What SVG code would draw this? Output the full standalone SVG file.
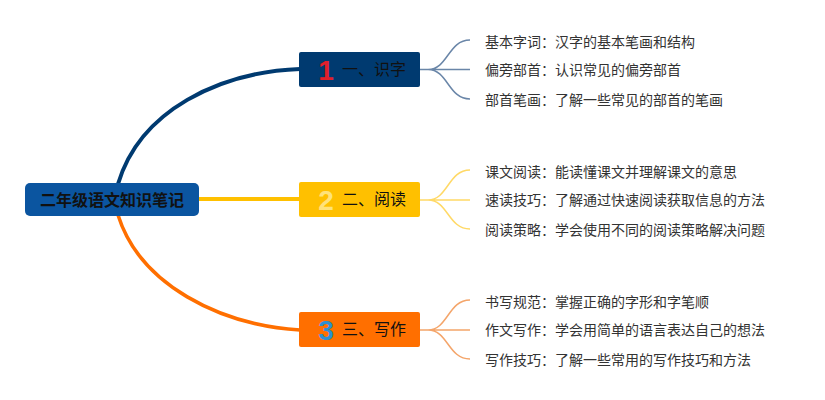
<svg xmlns="http://www.w3.org/2000/svg" width="825" height="400" viewBox="0 0 825 400">
<style>
.cjk{font-family:"Noto Sans CJK SC","Noto Sans",sans-serif}
.root{font-size:16px;font-weight:bold;fill:#111}
.main{font-size:16px;fill:#111}
.num{font-family:"Liberation Sans","Noto Sans",sans-serif;font-size:28px;font-weight:bold}
.leaf{font-size:14px;fill:#333}
.l1{stroke:#6a86a8;stroke-width:1.5;fill:none}
.l2{stroke:#ffd966;stroke-width:1.5;fill:none}
.l3{stroke:#f4a56a;stroke-width:1.5;fill:none}
</style>
<rect width="825" height="400" fill="#fff"/>
<g id="connectors">
<path d="M118,184 C140,110 220,72 300,69" stroke="#003a70" stroke-width="4" fill="none"/>
<path d="M199,199 L300,199" stroke="#ffc000" stroke-width="4" fill="none"/>
<path d="M118,215 C140,285 220,325 300,330" stroke="#ff6f00" stroke-width="3.5" fill="none"/>
<path class="l1" d="M420,69.5 L428,69.5 C448,69.5 448,40 470,40 M428,69.5 L470,69.5 M428,69.5 C448,69.5 448,99 470,99"/>
<path class="l2" d="M420,200 L428,200 C448,200 448,170 470,170 M428,200 L470,200 M428,200 C448,200 448,229 470,229"/>
<path class="l3" d="M420,330 L428,330 C448,330 448,300 470,300 M428,330 L470,330 M428,330 C448,330 448,359 470,359"/>
</g>
<g id="root">
<rect x="25" y="183" width="174" height="33" rx="5" fill="#0b55a0"/>
<text class="cjk root" x="112" y="205.5" text-anchor="middle">二年级语文知识笔记</text>
</g>
<g id="node1">
<rect x="299" y="52" width="121" height="35" rx="2" fill="#003a70"/>
<text class="num" x="326" y="80" fill="#e0202c" text-anchor="middle">1</text>
<text class="cjk main" x="342" y="75">一、识字</text>
</g>
<g id="node2">
<rect x="299" y="182" width="121" height="35" rx="2" fill="#ffc000"/>
<text class="num" x="326" y="210" fill="#ffe27a" text-anchor="middle">2</text>
<text class="cjk main" x="342" y="205">二、阅读</text>
</g>
<g id="node3">
<rect x="299" y="312" width="121" height="35" rx="2" fill="#ff6f00"/>
<text class="num" x="326" y="340" fill="#2e8fd0" text-anchor="middle">3</text>
<text class="cjk main" x="342" y="335">三、写作</text>
</g>
<g id="leaf1a"><text class="cjk leaf" x="485" y="47">基本字词：汉字的基本笔画和结构</text></g>
<g id="leaf1b"><text class="cjk leaf" x="485" y="75">偏旁部首：认识常见的偏旁部首</text></g>
<g id="leaf1c"><text class="cjk leaf" x="485" y="105">部首笔画：了解一些常见的部首的笔画</text></g>
<g id="leaf2a"><text class="cjk leaf" x="485" y="177">课文阅读：能读懂课文并理解课文的意思</text></g>
<g id="leaf2b"><text class="cjk leaf" x="485" y="205">速读技巧：了解通过快速阅读获取信息的方法</text></g>
<g id="leaf2c"><text class="cjk leaf" x="485" y="235">阅读策略：学会使用不同的阅读策略解决问题</text></g>
<g id="leaf3a"><text class="cjk leaf" x="485" y="307">书写规范：掌握正确的字形和字笔顺</text></g>
<g id="leaf3b"><text class="cjk leaf" x="485" y="335">作文写作：学会用简单的语言表达自己的想法</text></g>
<g id="leaf3c"><text class="cjk leaf" x="485" y="365">写作技巧：了解一些常用的写作技巧和方法</text></g>
</svg>
